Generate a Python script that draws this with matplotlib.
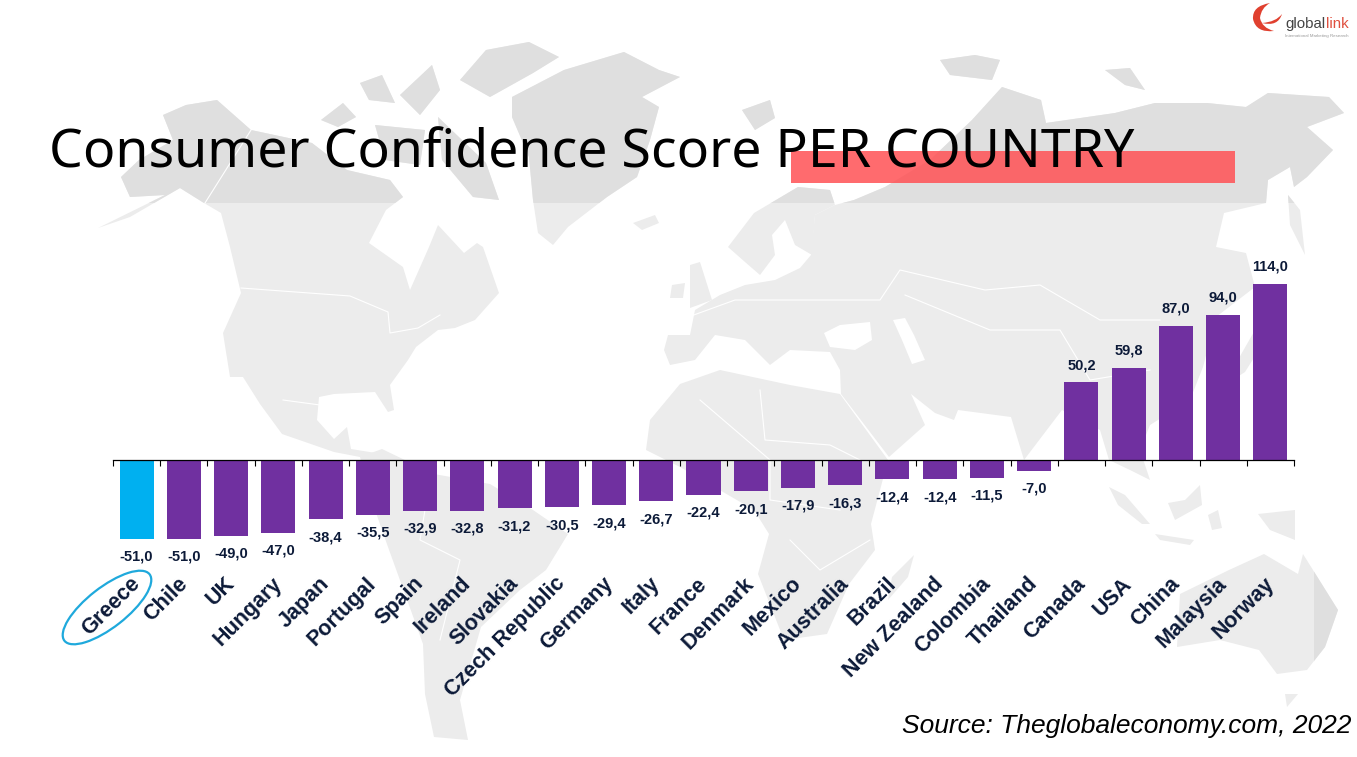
import matplotlib
matplotlib.use('Agg')
import matplotlib.pyplot as plt
from matplotlib.patches import Polygon, Rectangle, Ellipse, PathPatch
from matplotlib.path import Path
from matplotlib.transforms import ScaledTranslation

# chart data
countries = ['Greece', 'Chile', 'UK', 'Hungary', 'Japan', 'Portugal', 'Spain', 'Ireland', 'Slovakia',
             'Czech Republic', 'Germany', 'Italy', 'France', 'Denmark', 'Mexico', 'Australia', 'Brazil',
             'New Zealand', 'Colombia', 'Thailand', 'Canada', 'USA', 'China', 'Malaysia', 'Norway']
scores = [-51.0, -51.0, -49.0, -47.0, -38.4, -35.5, -32.9, -32.8, -31.2, -30.5, -29.4, -26.7, -22.4,
          -20.1, -17.9, -16.3, -12.4, -12.4, -11.5, -7.0, 50.2, 59.8, 87.0, 94.0, 114.0]

W, H = 1357, 757

# background world map, rough outlines in picture pixels
land = [
    # north america
    [(98, 228), (130, 217), (180, 188), (204, 203), (221, 213), (230, 247), (241, 293), (223, 333), (230, 377),
     (243, 377), (260, 404), (282, 434), (334, 452), (360, 457), (382, 454), (351, 449), (347, 427), (334, 439),
     (317, 420), (319, 397), (334, 394), (375, 392), (388, 412), (394, 410), (390, 385), (408, 360), (416, 347),
     (438, 330), (455, 328), (475, 320), (499, 293), (483, 247), (477, 243), (464, 253), (438, 225), (429, 247),
     (410, 290), (403, 267), (369, 243), (386, 210), (403, 197), (390, 180), (347, 170), (312, 143), (251, 130),
     (217, 100), (186, 105), (163, 115), (173, 140), (139, 160), (121, 177), (130, 197), (165, 195)],
    # canadian islands
    [(438, 117), (486, 163), (499, 200), (473, 197), (442, 160)],
    [(321, 120), (343, 103), (356, 117), (338, 127)],
    [(486, 50), (529, 42), (559, 57), (533, 73), (490, 97), (460, 80)],
    [(360, 83), (382, 75), (395, 103), (369, 100)],
    [(400, 95), (432, 65), (440, 90), (420, 115)],
    [(375, 125), (425, 130), (420, 165), (385, 160)],
    # greenland, iceland
    [(512, 97), (564, 70), (624, 52), (659, 70), (680, 77), (642, 97), (659, 107), (650, 140), (637, 177),
     (607, 197), (568, 227), (553, 245), (538, 233), (533, 200), (529, 157), (512, 117)],
    [(633, 223), (655, 215), (659, 223), (642, 230)],
    # south america
    [(360, 457), (382, 449), (434, 474), (490, 484), (533, 510), (568, 534), (546, 570), (520, 590), (481, 627),
     (460, 700), (468, 740), (434, 737), (425, 694), (423, 644), (388, 547), (375, 510)],
    # africa
    [(646, 450), (650, 420), (680, 384), (720, 370), (790, 385), (840, 394), (888, 460), (871, 524), (875, 550),
     (849, 584), (827, 634), (784, 640), (758, 574), (769, 534), (754, 510), (680, 467)],
    [(914, 555), (908, 577), (888, 600), (892, 577)],
    # eurasia
    [(664, 350), (668, 335), (690, 335), (695, 310), (720, 295), (745, 285), (775, 280), (800, 268), (811, 255),
     (815, 215), (835, 205), (854, 200), (885, 187), (930, 160), (972, 120), (1002, 87), (1041, 100), (1046, 123),
     (1115, 113), (1155, 103), (1207, 103), (1246, 107), (1268, 93), (1329, 97), (1344, 113), (1307, 127),
     (1333, 150), (1307, 177), (1294, 187), (1290, 167), (1268, 180), (1266, 203), (1224, 213), (1216, 247),
     (1246, 253), (1255, 287), (1216, 317), (1203, 367), (1190, 400), (1150, 425), (1140, 450), (1150, 480),
     (1130, 470), (1109, 460), (1100, 430), (1062, 410), (1024, 460), (1011, 417), (958, 410), (954, 420),
     (935, 413), (911, 394), (925, 425), (889, 457), (841, 394), (840, 370), (830, 352), (790, 350), (770, 365),
     (745, 340), (715, 335), (695, 360), (670, 365)],
    # scandinavia, britain, arctic islands
    [(728, 247), (754, 213), (798, 187), (830, 190), (835, 205), (815, 215), (812, 255), (795, 245), (785, 220),
     (772, 235), (775, 255), (760, 275), (745, 262)],
    [(690, 265), (700, 262), (712, 300), (690, 308)],
    [(672, 285), (685, 283), (683, 298), (670, 298)],
    [(975, 55), (1000, 60), (992, 80), (950, 75), (940, 60)],
    [(742, 110), (770, 100), (775, 118), (755, 130)],
    [(1105, 70), (1130, 68), (1145, 90), (1125, 85)],
    # east asia islands
    [(1288, 195), (1300, 210), (1305, 255), (1290, 225)],
    [(1255, 330), (1262, 345), (1245, 372), (1225, 385), (1235, 365)],
    # south east asia, oceania
    [(1109, 487), (1125, 495), (1150, 524), (1142, 524), (1118, 505)],
    [(1168, 503), (1185, 500), (1200, 485), (1202, 505), (1175, 520)],
    [(1155, 534), (1194, 540), (1190, 545), (1160, 540)],
    [(1208, 515), (1218, 510), (1222, 528), (1212, 530)],
    [(1258, 514), (1295, 510), (1295, 540), (1270, 530)],
    [(1177, 647), (1180, 594), (1229, 570), (1264, 554), (1298, 574), (1303, 554), (1338, 610), (1325, 647),
     (1307, 670), (1277, 674), (1259, 650), (1220, 640)],
    [(1285, 694), (1298, 694), (1287, 707)],
]
# seas cut out of the land
water = [
    [(824, 333), (840, 325), (870, 322), (872, 340), (855, 350), (830, 347)],
    [(893, 320), (905, 318), (914, 335), (925, 360), (912, 364), (902, 340)],
]
borders = [
    [(251, 130), (205, 203)],
    [(241, 288), (350, 296), (388, 312), (390, 333), (418, 328), (440, 315)],
    [(283, 400), (320, 405)],
    [(680, 320), (735, 300), (790, 300), (880, 300), (900, 270), (985, 290), (1040, 285), (1100, 320), (1160, 320)],
    [(905, 295), (990, 330), (1060, 330), (1090, 380), (1150, 370)],
    [(760, 390), (765, 440), (830, 445), (860, 460)],
    [(700, 400), (770, 460), (770, 500), (840, 510)],
    [(430, 480), (420, 540), (460, 560), (440, 640)],
    [(790, 540), (820, 570), (870, 540)],
]

fig = plt.figure(figsize=(W / 100, H / 100), dpi=100, facecolor='white')

# full page axes in pixels for everything that is not the bars
page = fig.add_axes([0, 0, 1, 1], zorder=0)
page.set_xlim(0, W)
page.set_ylim(H, 0)
page.axis('off')

dark_parts = [Rectangle((0, 0), W, 202.5, transform=page.transData),
              Rectangle((1314, 202), W - 1314, H, transform=page.transData)]

for shape in land:
    page.add_patch(Polygon(shape, closed=True, fc='#ececec', ec='none', zorder=1))
for part in dark_parts:
    page.add_artist(part)
    part.set_visible(False)
    for shape in land:
        p = Polygon(shape, closed=True, fc='#dfdfdf', ec='none', zorder=1.5)
        page.add_patch(p)
        p.set_clip_path(part)
for shape in water:
    page.add_patch(Polygon(shape, closed=True, fc='white', ec='none', zorder=2))
for line in borders:
    page.plot([p[0] for p in line], [p[1] for p in line], color='white', lw=0.8, zorder=2)

# title and red bar
page.add_patch(Rectangle((791, 151), 444, 32, fc='#ff5155', alpha=0.85, ec='none', zorder=3))
page.text(49, 167, 'Consumer Confidence Score PER COUNTRY', family='Noto Sans', fontsize=38.6, color='black',
          ha='left', va='baseline', zorder=4)

page.text(1351, 726, 'Source: Theglobaleconomy.com, 2022', family='Liberation Sans', style='italic', fontsize=19,
          color='black', ha='right', va='center', zorder=4)

# circle round Greece
page.add_patch(Ellipse((107, 607.5), 108, 40, angle=-38, fc='none', ec='#1fa9dc', lw=1.6, zorder=5))

# logo
crescent = Path([(1270, 3), (1252, 6), (1253, 19), (1256, 33), (1274, 31), (1262, 28), (1260, 18), (1261, 8), (1270, 3)],
                [Path.MOVETO, Path.CURVE3, Path.CURVE3, Path.CURVE3, Path.CURVE3, Path.CURVE3, Path.CURVE3, Path.CURVE3,
                 Path.CURVE3])
swoosh = Path([(1262, 23), (1276, 22), (1282, 14), (1278, 27), (1262, 23)],
              [Path.MOVETO, Path.CURVE3, Path.CURVE3, Path.CURVE3, Path.CURVE3])
page.add_patch(PathPatch(crescent, fc='#e0402f', ec='none', zorder=5))
page.add_patch(PathPatch(swoosh, fc='#e0402f', ec='none', zorder=5))
page.text(1285, 28, 'global', family='Liberation Sans', fontsize=10.8, color='#444444', ha='left', va='baseline')
page.text(1349, 28, 'link', family='Liberation Sans', fontsize=10.8, color='#e0503f', ha='right', va='baseline')
page.text(1285, 36.5, 'International Marketing Research', family='Liberation Sans', fontsize=3.2, color='#999999',
          ha='left', va='center')

# bars, axis runs 113..1294 px, zero at y=460, 1.544 px per unit
y_top, y_bottom = 130, -60
ax = fig.add_axes([113 / W, (H - (460 - y_bottom * 1.544)) / H, (1294 - 113) / W, (y_top - y_bottom) * 1.544 / H],
                  zorder=1)
ax.patch.set_alpha(0)

x = list(range(len(countries)))
colors = ['#00b0f0'] + ['#7030a0'] * (len(countries) - 1)
ax.bar(x, scores, width=0.72, color=colors)
ax.set_xlim(-0.5, len(countries) - 0.5)
ax.set_ylim(y_bottom, y_top)

for s in ['top', 'left', 'right']:
    ax.spines[s].set_visible(False)
ax.spines['bottom'].set_position(('data', 0))
ax.spines['bottom'].set_linewidth(0.9)
ax.set_yticks([])

ax.set_xticks([i - 0.5 for i in range(len(countries) + 1)])
ax.set_xticklabels([])
ax.tick_params(axis='x', which='major', direction='out', length=4.5, width=0.8)
ax.set_xticks(x, countries, minor=True, rotation=45, ha='right', rotation_mode='anchor',
              family='Liberation Sans', fontweight='bold', fontsize=15.5, color='#0c1a38')
ax.tick_params(axis='x', which='minor', length=0, pad=81.5)

# nudge the names left of their bars
shift = ScaledTranslation(-7 / 100, 0, fig.dpi_scale_trans)
for lab in ax.get_xticklabels(minor=True):
    lab.set_transform(lab.get_transform() + shift)

for i, v in zip(x, scores):
    label = f'{v:.1f}'.replace('.', ',')
    off = 17 if v > 0 else -18
    ax.annotate(label, (i, v), xytext=(0, off), textcoords='offset pixels', ha='center', va='center',
                family='Liberation Sans', fontweight='bold', fontsize=10.5, color='#0c1a38')

fig.savefig('out.png', dpi=100)
